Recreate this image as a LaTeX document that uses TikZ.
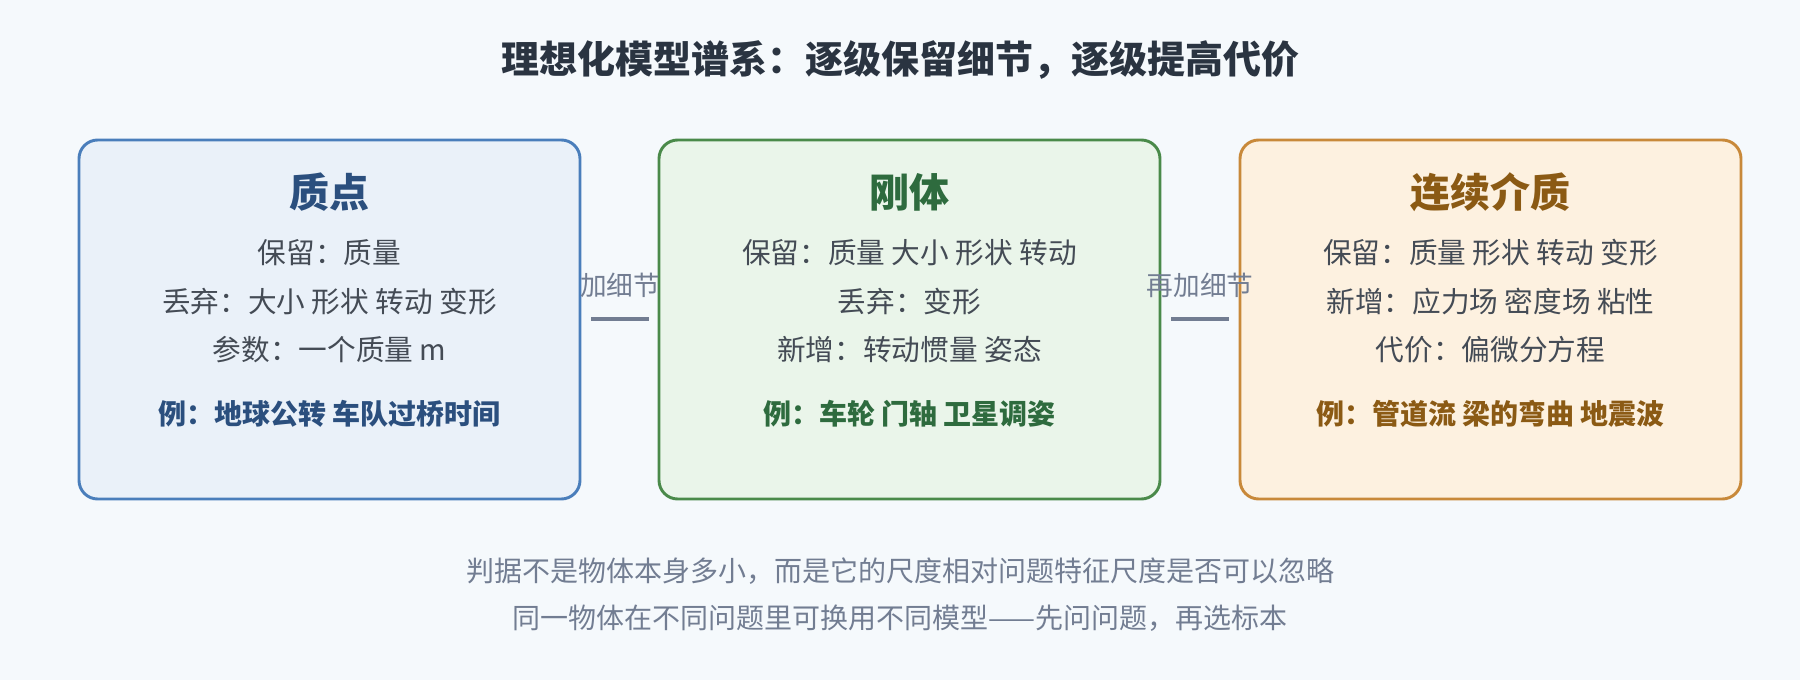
\documentclass[tikz,border=0pt]{standalone}
\usepackage{fontspec}
\setmainfont{Noto Sans CJK SC}
\definecolor{bg}{HTML}{F5F9FC}
\definecolor{titc}{HTML}{2A3441}
\definecolor{txt}{HTML}{444B55}
\definecolor{gr}{HTML}{727D92}
\definecolor{fa}{HTML}{EAF1F9}\definecolor{ba}{HTML}{4A7EBB}\definecolor{ha}{HTML}{2B4F7E}
\definecolor{fb}{HTML}{EAF5EA}\definecolor{bb}{HTML}{4A8A4A}\definecolor{hb}{HTML}{2E6B3E}
\definecolor{fc}{HTML}{FDF1E0}\definecolor{bc}{HTML}{C8893A}\definecolor{hc}{HTML}{8B5A14}
\begin{document}
\begin{tikzpicture}[x=0.75pt,y=-0.75pt,
 box/.style={draw=#1,line width=2.2pt,rounded corners=14pt},
 head/.style={font=\fontsize{30}{36}\selectfont\bfseries,text=#1},
 body/.style={font=\fontsize{21.5}{26}\selectfont,text=txt},
 ex/.style={font=\fontsize{21}{25}\selectfont\bfseries,text=#1},
 conn/.style={draw=gr,line width=3.5pt},
 clab/.style={font=\fontsize{20}{24}\selectfont,text=gr},
 foot/.style={font=\fontsize{21}{25}\selectfont,text=gr}]
\fill[bg] (0,0) rectangle (1800,680);
\useasboundingbox (0,0) rectangle (1800,680);
\node[font=\fontsize{28.5}{34}\selectfont\bfseries,text=titc] (title) at (900,60) {理想化模型谱系：逐级保留细节，逐级提高代价};
\foreach \n/\x/\f/\b in {a/79/fa/ba,b/659/fb/bb,c/1240/fc/bc}{
 \fill[\f,rounded corners=14pt] (\x,140) rectangle ++(501,359);
 \draw[box=\b] (\x,140) rectangle ++(501,359);
 \coordinate (\n) at (\x+250.5,0);}
\node[head=ha] (h1) at ([yshift=-192*0.75pt]a) {质点};
\node[body] (a1) at ([yshift=-253*0.75pt]a) {保留：质量};
\node[body] (a2) at ([yshift=-302*0.75pt]a) {丢弃：大小 形状 转动 变形};
\node[body] (a3) at ([yshift=-350*0.75pt]a) {参数：一个质量 m};
\node[ex=ha] (a4) at ([yshift=-414*0.75pt]a) {例：地球公转 车队过桥时间};
\node[head=hb] (h2) at ([yshift=-192*0.75pt]b) {刚体};
\node[body] (b1) at ([yshift=-253*0.75pt]b) {保留：质量 大小 形状 转动};
\node[body] (b2) at ([yshift=-302*0.75pt]b) {丢弃：变形};
\node[body] (b3) at ([yshift=-350*0.75pt]b) {新增：转动惯量 姿态};
\node[ex=hb] (b4) at ([yshift=-414*0.75pt]b) {例：车轮 门轴 卫星调姿};
\node[head=hc] (h3) at ([yshift=-192*0.75pt]c) {连续介质};
\node[body] (c1) at ([yshift=-253*0.75pt]c) {保留：质量 形状 转动 变形};
\node[body] (c2) at ([yshift=-302*0.75pt]c) {新增：应力场 密度场 粘性};
\node[body] (c3) at ([yshift=-350*0.75pt]c) {代价：偏微分方程};
\node[ex=hc] (c4) at ([yshift=-414*0.75pt]c) {例：管道流 梁的弯曲 地震波};
\node[clab] (l1) at (620,285) {加细节};
\coordinate (p1) at (591,319); \coordinate (q1) at (649,319);
\draw[conn] (p1) -- (q1);
\node[clab] (l2) at (1200,285) {再加细节};
\coordinate (p2) at (1171,319); \coordinate (q2) at (1229,319);
\draw[conn] (p2) -- (q2);
\node[foot] (f1) at (900,571) {判据不是物体本身多小，而是它的尺度相对问题特征尺度是否可以忽略};
\node[foot] (f2) at (900,618) {同一物体在不同问题里可换用不同模型——先问问题，再选标本};
\end{tikzpicture}
\end{document}
